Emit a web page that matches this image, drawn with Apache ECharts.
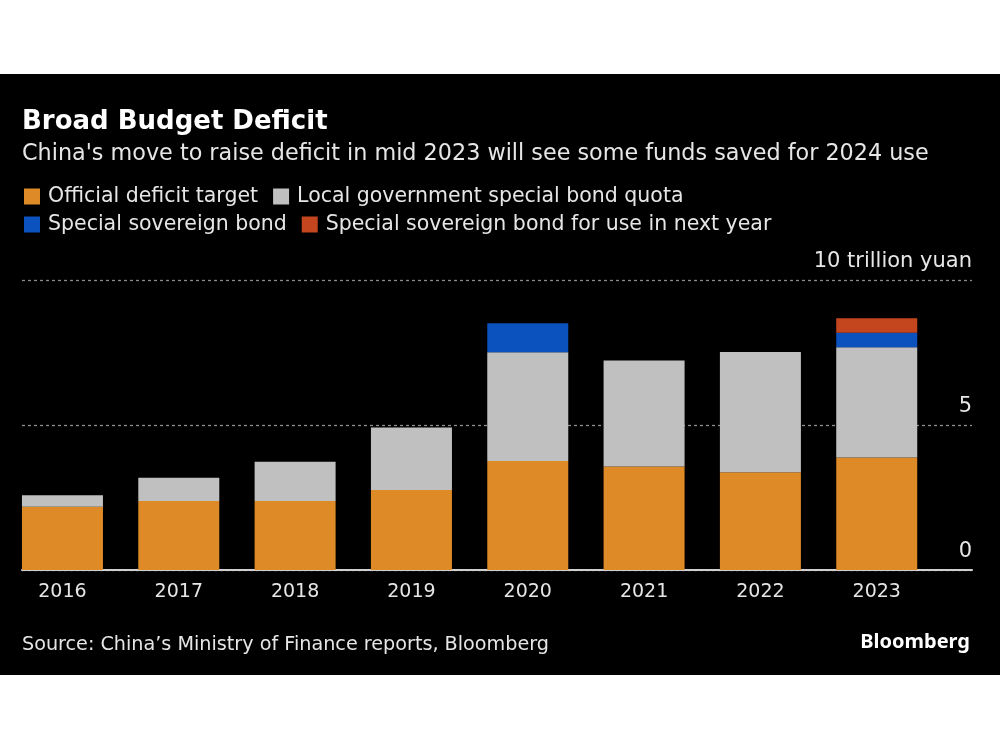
<!DOCTYPE html>
<html>
<head>
<meta charset="utf-8">
<script src="https://cdn.jsdelivr.net/npm/echarts@6/dist/echarts.min.js"></script>
<style>
html,body{margin:0;padding:0;background:#fff;width:1000px;height:750px;overflow:hidden;}
#chart{position:absolute;left:0;top:74px;width:1000px;height:601px;}
</style>
</head>
<body>
<div id="chart"></div>
<script>
var years = ['2016','2017','2018','2019','2020','2021','2022','2023'];
var officialDeficit = [2.18, 2.38, 2.38, 2.76, 3.76, 3.57, 3.37, 3.88];
var localSpecialBond = [0.40, 0.80, 1.35, 2.15, 3.75, 3.65, 4.15, 3.80];
var specialSovereign = [0, 0, 0, 0, 1.00, 0, 0, 0.50];
var sovereignNextYear = [0, 0, 0, 0, 0, 0, 0, 0.50];
var yTicks = [0, 5, 10];

var FONT = 'DejaVu Sans';
var chart = echarts.init(document.getElementById('chart'), null, {renderer:'canvas'});
var gridTop = 206, gridBottom = 105;

function barSeries(name, data, color){
  return {name:name, type:'bar', stack:'total', data:data, barWidth:81,
    xAxisIndex:0, yAxisIndex:0, itemStyle:{color:color}, emphasis:{disabled:true}};
}

chart.setOption({
  backgroundColor:'#000',
  animation:false,
  textStyle:{fontFamily:FONT},
  title:[
    {text:'Broad Budget Deficit', left:22, top:35, padding:0, textStyle:{color:'#fff', fontSize:26, fontWeight:'bold', fontFamily:FONT}},
    {text:"China's move to raise deficit in mid 2023 will see some funds saved for 2024 use", left:22, top:69, padding:0, textStyle:{color:'#e6e6e6', fontSize:22.3, fontWeight:'normal', fontFamily:FONT}},
    {text:'Source: China\u2019s Ministry of Finance reports, Bloomberg', left:22, top:562, padding:0, textStyle:{color:'#e6e6e6', fontSize:19.2, fontWeight:'normal', fontFamily:FONT}},
    {text:'Bloomberg', right:30, top:558, padding:0, textStyle:{color:'#fff', fontSize:20, fontWeight:'bold', fontFamily:'Noto Sans'}}
  ],
  legend:[
    {data:['Official deficit target','Local government special bond quota'], left:24, top:112, padding:0,
     itemWidth:16, itemHeight:16, itemGap:15, icon:'rect',
     textStyle:{color:'#e6e6e6', fontSize:20.5, fontFamily:FONT, padding:[0,0,0,3]}, selectedMode:false},
    {data:['Special sovereign bond','Special sovereign bond for use in next year'], left:24, top:140, padding:0,
     itemWidth:16, itemHeight:16, itemGap:15, icon:'rect',
     textStyle:{color:'#e6e6e6', fontSize:20.5, fontFamily:FONT, padding:[0,0,0,3]}, selectedMode:false}
  ],
  grid:[
    {left:4.3, width:930.6, top:gridTop, bottom:gridBottom},
    {left:22, right:28, top:gridTop, bottom:gridBottom}
  ],
  xAxis:[
    {type:'category', gridIndex:0, data:years,
     axisLine:{show:false}, axisTick:{show:false},
     axisLabel:{color:'#e6e6e6', fontSize:19, margin:13, fontFamily:FONT}},
    {type:'value', gridIndex:1, min:0, max:1, show:true,
     axisLine:{show:true, onZero:false, lineStyle:{color:'#d0d0d0', width:2}},
     axisTick:{show:false}, axisLabel:{show:false}, splitLine:{show:false}}
  ],
  yAxis:[
    {type:'value', gridIndex:0, min:0, max:10, show:false, splitLine:{show:false}},
    {type:'value', gridIndex:1, min:0, max:10, interval:5, position:'right',
     axisLine:{show:false}, axisTick:{show:false},
     axisLabel:{inside:true, color:'#e6e6e6', fontSize:21, fontFamily:FONT, verticalAlign:'bottom', margin:0, padding:[0,0,8,0],
       formatter:function(v){ return yTicks.indexOf(v) >= 0 ? (v === 10 ? '10 trillion yuan' : String(v)) : ''; }},
     splitLine:{show:true, lineStyle:{color:'#8c8c8c', type:[3,3], width:1.3}}}
  ],
  series:[
    barSeries('Official deficit target', officialDeficit, '#DD8A27'),
    barSeries('Local government special bond quota', localSpecialBond, '#C0C0C0'),
    barSeries('Special sovereign bond', specialSovereign, '#0B52BE'),
    barSeries('Special sovereign bond for use in next year', sovereignNextYear, '#C4461F'),
    {type:'line', xAxisIndex:1, yAxisIndex:1, data:[], silent:true}
  ]
});
</script>
</body>
</html>
